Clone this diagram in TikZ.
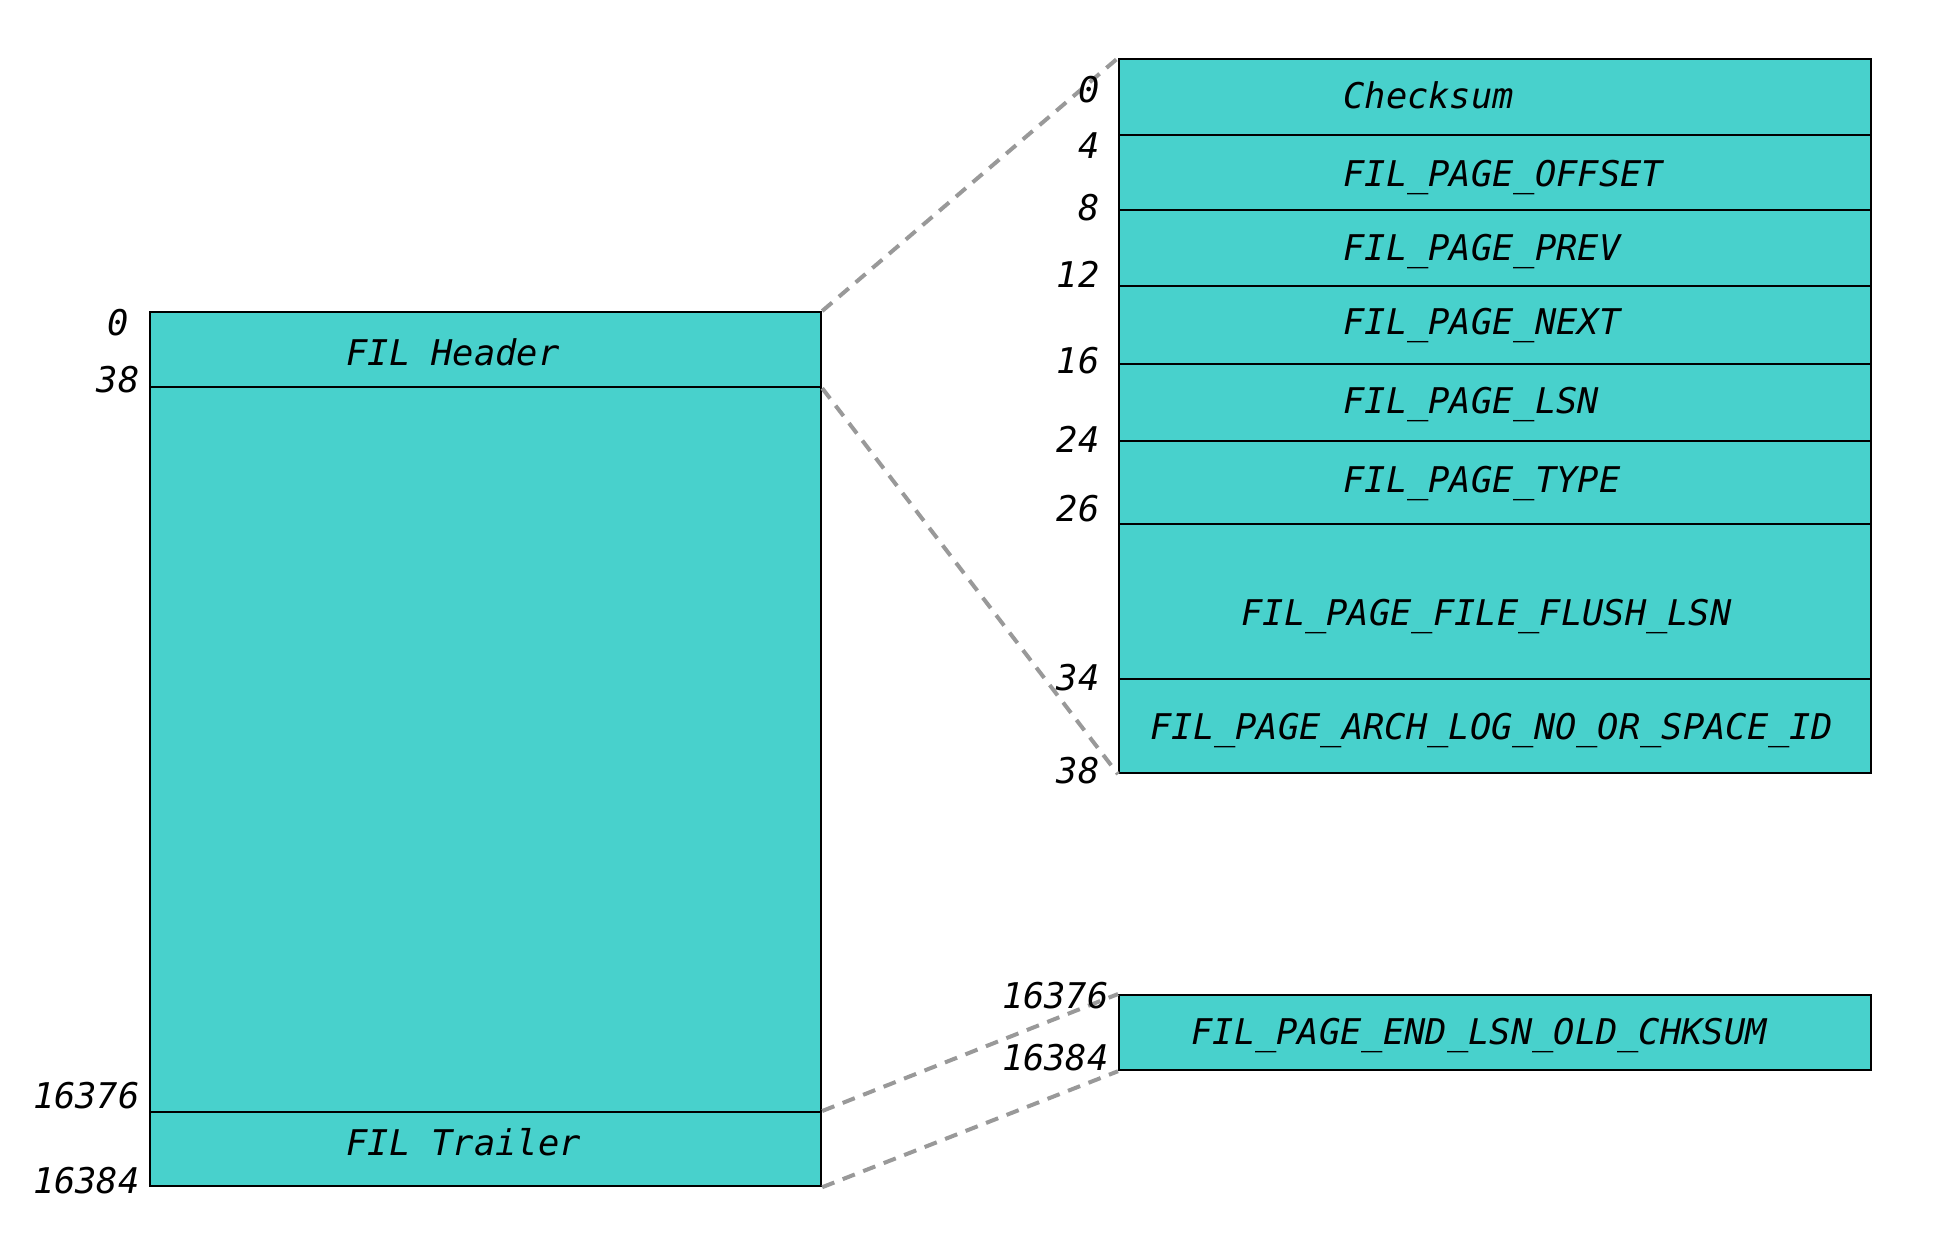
\documentclass[tikz,border=0pt]{standalone}
\usepackage{fontspec}
\newfontfamily\dmono{DejaVu Sans Mono}
\definecolor{turq}{HTML}{48D1CC}
\definecolor{dashgray}{HTML}{999999}
\begin{document}
\begin{tikzpicture}[x=0.5pt,y=-0.5pt,
  cell/.style={draw=black,line width=1.1pt,fill=turq,inner sep=0pt,anchor=north west},
  lbl/.style={font=\dmono\itshape\fontsize{17.7}{21}\selectfont,inner sep=0pt},
  num/.style={lbl,anchor=base east},
  txt/.style={lbl,anchor=base west},
  link/.style={draw=dashgray,line width=2pt,dash pattern=on 6.5pt off 4.5pt}]
\useasboundingbox (0,0) rectangle (1936,1238);
% left page
\node[cell,minimum width=335.5pt,minimum height=37.5pt] (hdr) at (149,311) {};
\node[cell,minimum width=335.5pt,minimum height=362.5pt] (body) at (149,386) {};
\node[cell,minimum width=335.5pt,minimum height=37pt] (trl) at (149,1111) {};
% header detail
\node[cell,minimum width=376pt,minimum height=38pt] (r1) at (1118,58) {};
\node[cell,minimum width=376pt,minimum height=37.5pt] (r2) at (1118,134) {};
\node[cell,minimum width=376pt,minimum height=38pt] (r3) at (1118,209) {};
\node[cell,minimum width=376pt,minimum height=39pt] (r4) at (1118,285) {};
\node[cell,minimum width=376pt,minimum height=38.5pt] (r5) at (1118,363) {};
\node[cell,minimum width=376pt,minimum height=41.5pt] (r6) at (1118,440) {};
\node[cell,minimum width=376pt,minimum height=77.5pt] (r7) at (1118,523) {};
\node[cell,minimum width=376pt,minimum height=47pt] (r8) at (1118,678) {};
% trailer detail
\node[cell,minimum width=376pt,minimum height=37.5pt] (tr) at (1118,994) {};
% connectors
\draw[link] (hdr.north east) -- (r1.north west);
\draw[link] (hdr.south east) -- (r8.south west);
\draw[link] (trl.north east) -- (tr.north west);
\draw[link] (trl.south east) -- (tr.south west);
% left texts
\node[txt] (tH) at (346,365) {FIL Header};
\node[txt] (tT) at (346,1155) {FIL Trailer};
\node[num] (l0) at (129,335) {0};
\node[num] (l38) at (140,392) {38};
\node[num] (l16376) at (140,1108) {16376};
\node[num] (l16384) at (140,1193) {16384};
% header detail texts
\node[txt] (t1) at (1343,108) {Checksum};
\node[txt] (t2) at (1343,186) {FIL\_PAGE\_OFFSET};
\node[txt] (t3) at (1343,260) {FIL\_PAGE\_PREV};
\node[txt] (t4) at (1343,334) {FIL\_PAGE\_NEXT};
\node[txt] (t5) at (1343,413) {FIL\_PAGE\_LSN};
\node[txt] (t6) at (1343,492) {FIL\_PAGE\_TYPE};
\node[txt] (t7) at (1241,625) {FIL\_PAGE\_FILE\_FLUSH\_LSN};
\node[txt] (t8) at (1150,739) {FIL\_PAGE\_ARCH\_LOG\_NO\_OR\_SPACE\_ID};
\node[txt] (t9) at (1191,1044) {FIL\_PAGE\_END\_LSN\_OLD\_CHKSUM};
% offsets
\node[num] (n0) at (1100,102) {0};
\node[num] (n4) at (1100,158) {4};
\node[num] (n8) at (1100,220) {8};
\node[num] (n12) at (1100,287) {12};
\node[num] (n16) at (1100,373) {16};
\node[num] (n24) at (1100,452) {24};
\node[num] (n26) at (1100,521) {26};
\node[num] (n34) at (1100,690) {34};
\node[num] (n38) at (1100,783) {38};
\node[num] (n16376) at (1109,1008) {16376};
\node[num] (n16384) at (1109,1070) {16384};
\end{tikzpicture}
\end{document}
